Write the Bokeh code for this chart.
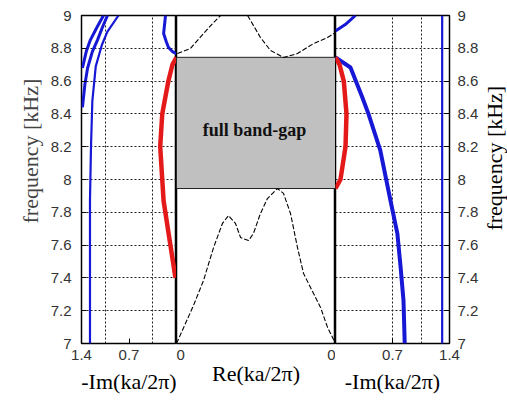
from bokeh.plotting import figure
from bokeh.layouts import row
from bokeh.models import Range1d, FixedTicker, CustomJSTickFormatter, Title
from bokeh.embed import file_html
from bokeh.resources import INLINE
from bokeh.core.properties import value

# ---------------- data ----------------
freq_ticks = [7.0, 7.2, 7.4, 7.6, 7.8, 8.0, 8.2, 8.4, 8.6, 8.8, 9.0]
im_ticks = [0.7, 1.4]
gap_bottom = 7.945
gap_top = 8.745
freq_label = "frequency [kHz]"

# left panel (-Im), blue branches
lA_im = [1.275, 1.275, 1.26, 1.24, 1.19, 1.10, 1.02, 0.855]
lA_f = [7.0, 7.87, 8.2, 8.48, 8.69, 8.82, 8.9, 9.0]
lB_im = [1.386, 1.35, 1.31, 1.24, 1.165, 1.09, 1.017]
lB_f = [8.44, 8.58, 8.68, 8.78, 8.85, 8.93, 9.0]
lC_im = [1.386, 1.33, 1.27, 1.17, 1.076]
lC_f = [8.68, 8.78, 8.85, 8.93, 9.0]
lD_im = [0.162, 0.19, 0.15, 0.118, 0.06, 0.0]
lD_f = [9.0, 8.89, 8.84, 8.805, 8.78, 8.768]
# left panel, red branch
lR_im = [0.0, 0.06, 0.12, 0.21, 0.24, 0.21, 0.19, 0.09, 0.015]
lR_f = [8.745, 8.7, 8.6, 8.4, 8.2, 8.0, 7.87, 7.6, 7.4]

# middle panel (Re), dashed black branches
mL_re = [0.0, 0.107, 0.170, 0.233, 0.289, 0.327, 0.371, 0.403, 0.453, 0.484,
         0.528, 0.572, 0.635, 0.673, 0.717, 0.761, 0.799, 0.862, 0.906, 0.950, 1.0]
mL_f = [7.0, 7.232, 7.384, 7.585, 7.732, 7.78, 7.732, 7.646, 7.628, 7.671,
        7.793, 7.884, 7.945, 7.915, 7.793, 7.585, 7.427, 7.305, 7.22, 7.098, 7.0]
mU1_re = [0.006, 0.088, 0.170, 0.233, 0.277]
mU1_f = [8.768, 8.799, 8.89, 8.957, 9.0]
mU2_re = [0.447, 0.528, 0.591, 0.673, 0.761, 0.862, 0.950, 1.0]
mU2_f = [9.0, 8.866, 8.787, 8.744, 8.768, 8.829, 8.866, 8.896]

# right panel (-Im)
rE_im = [0.0, 0.184, 0.33, 0.405, 0.55, 0.675, 0.76, 0.80, 0.835, 0.85]
rE_f = [8.745, 8.683, 8.5, 8.4, 8.177, 7.872, 7.67, 7.463, 7.262, 7.0]
rF_im = [1.31, 1.31]
rF_f = [7.0, 9.0]
rG_im = [0.0, 0.12, 0.245]
rG_f = [8.905, 8.945, 9.0]
rR_im = [0.0, 0.05, 0.102, 0.135, 0.123, 0.061, 0.0]
rR_f = [8.745, 8.7, 8.6, 8.4, 8.2, 8.0, 7.945]

# ---------------- styling ----------------
BLUE = "#1717d6"
RED = "#e41a1a"
TICK_FONT = "Liberation Sans"
LABEL_FONT = "Liberation Serif"

fmt_freq = CustomJSTickFormatter(code="return String(Math.round(tick*10)/10)")
fmt_im = CustomJSTickFormatter(code="return String(Math.round(tick*10)/10)")

TOP = 15
FRAME_H = 328
BOT = 55
H = TOP + FRAME_H + BOT
yr = Range1d(7.0, 9.0)


def style_common(p):
    p.outline_line_color = "black"
    p.outline_line_width = 1.5
    p.background_fill_color = "white"
    p.border_fill_color = "white"
    for ax in p.axis:
        ax.axis_line_color = None
        ax.major_tick_out = 0
        ax.major_tick_in = 5
        ax.major_tick_line_color = "black"
        ax.minor_tick_line_color = None
        ax.major_label_text_font = TICK_FONT
        ax.major_label_text_font_size = "15px"
        ax.major_label_text_color = "#333333"
        ax.axis_label_text_font = LABEL_FONT
        ax.axis_label_text_font_size = "22px"
        ax.axis_label_text_font_style = "normal"
        ax.axis_label_text_color = "black"


def style_grid(p, xgrid_ticks):
    p.xgrid.ticker = FixedTicker(ticks=xgrid_ticks)
    p.ygrid.ticker = FixedTicker(ticks=freq_ticks[1:-1])
    for g in p.grid:
        g.grid_line_color = "#222222"
        g.grid_line_dash = "2 2"
        g.grid_line_width = 1


# left panel
pl = figure(width=81 + 95, height=H, x_range=Range1d(1.4, 0.0), y_range=yr,
            output_backend="svg", toolbar_location=None, title=None,
            min_border_left=81, min_border_right=0, min_border_top=TOP, min_border_bottom=BOT)
pl.xaxis.ticker = FixedTicker(ticks=im_ticks)
pl.xaxis.formatter = fmt_im
pl.xaxis.axis_label = "-Im(ka/2π)"
pl.yaxis.ticker = FixedTicker(ticks=freq_ticks)
pl.yaxis.formatter = fmt_freq
style_common(pl)
style_grid(pl, [0.35, 1.05])
pl.xaxis.major_label_standoff = 6
pl.xaxis.axis_label_standoff = 6
pl.yaxis.major_label_standoff = 10
pl.add_layout(Title(text=freq_label, align="left", offset=120,
                    text_font=LABEL_FONT, text_font_size="22px", text_font_style="normal",
                    standoff=10), "left")
pl.line(lA_im, lA_f, line_color=BLUE, line_width=2.2)
pl.line(lB_im, lB_f, line_color=BLUE, line_width=3)
pl.line(lC_im, lC_f, line_color=BLUE, line_width=3)
pl.line(lD_im, lD_f, line_color=BLUE, line_width=3)
pl.line(lR_im, lR_f, line_color=RED, line_width=4.5)

# middle panel
pm = figure(width=159, height=H, x_range=Range1d(0.0, 1.0), y_range=yr,
            output_backend="svg", toolbar_location=None, title=None, y_axis_location=None,
            min_border_left=0, min_border_right=0, min_border_top=TOP, min_border_bottom=BOT)
pm.xaxis.ticker = FixedTicker(ticks=[0.015, 0.985])
pm.xaxis.formatter = CustomJSTickFormatter(code="return '0'")
pm.xaxis.axis_label = "Re(ka/2π)"
style_common(pm)
pm.xaxis.major_tick_in = 0
pm.xaxis.major_label_standoff = 6
pm.xaxis.axis_label_standoff = -2
pm.grid.visible = False
pm.quad(left=[0.0], right=[1.0], bottom=[gap_bottom], top=[gap_top],
        fill_color="#c0c0c0", line_color="#222222", line_width=1)
pm.text(x=[0.49], y=[8.30], text=["full band-gap"], text_font=value(LABEL_FONT),
        text_font_size="18px", text_font_style="bold", text_align="center",
        text_baseline="middle", text_color="#111111")
pm.line(mL_re, mL_f, line_color="black", line_width=1.1, line_dash="5 2")
pm.line(mU1_re, mU1_f, line_color="black", line_width=1.1, line_dash="5 2")
pm.line(mU2_re, mU2_f, line_color="black", line_width=1.1, line_dash="5 2")

# right panel
pr = figure(width=114 + 33, height=H, x_range=Range1d(0.0, 1.4), y_range=yr,
            output_backend="svg", toolbar_location=None, title=None, y_axis_location="right",
            min_border_left=0, min_border_right=33, min_border_top=TOP, min_border_bottom=BOT)
pr.xaxis.ticker = FixedTicker(ticks=im_ticks)
pr.xaxis.formatter = fmt_im
pr.xaxis.axis_label = "-Im(ka/2π)"
pr.yaxis.ticker = FixedTicker(ticks=freq_ticks)
pr.yaxis.formatter = fmt_freq
style_common(pr)
style_grid(pr, [0.7, 1.05])
pr.xaxis.major_label_standoff = 6
pr.xaxis.axis_label_standoff = 6
pr.yaxis.major_label_standoff = 8
pr.line(rF_im, rF_f, line_color=BLUE, line_width=2.2)
pr.line(rE_im, rE_f, line_color=BLUE, line_width=4)
pr.line(rG_im, rG_f, line_color=BLUE, line_width=3)
pr.line(rR_im, rR_f, line_color=RED, line_width=4.5)

# narrow strip holding the right-hand axis title (reads bottom to top)
pt = figure(width=25, height=H, x_range=Range1d(0.0, 1.0), y_range=yr,
            output_backend="svg", toolbar_location=None, title=None,
            x_axis_location=None, y_axis_location=None,
            min_border_left=0, min_border_right=0, min_border_top=TOP, min_border_bottom=BOT)
pt.grid.visible = False
pt.outline_line_color = None
pt.background_fill_color = "white"
pt.border_fill_color = "white"
pt.text(x=[0.48], y=[8.13], text=[freq_label], angle=90, angle_units="deg",
        text_font=value(LABEL_FONT), text_font_size="22px", text_align="center",
        text_baseline="middle", text_color="black")

layout = row(pl, pm, pr, pt, spacing=0)
open("out.html", "w").write(file_html(layout, INLINE))
